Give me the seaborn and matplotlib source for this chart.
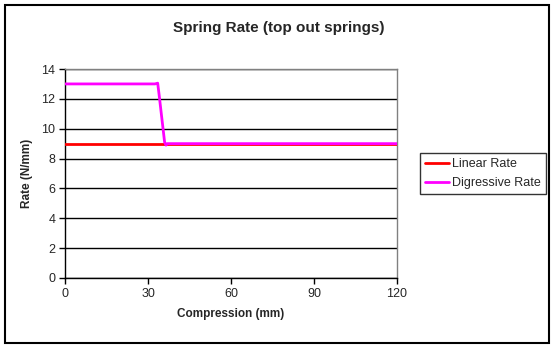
import numpy as np
import pandas as pd
import matplotlib
matplotlib.use("Agg")
import matplotlib.pyplot as plt
import seaborn as sns
from matplotlib.patches import Rectangle

# Spring rate data (compression in mm, rate in N/mm)
linear_x = [0, 120]
linear_rate = [9, 9]
digressive_x = [0, 32.5, 33.5, 34.0, 34.5, 35.0, 35.5, 36.0, 36.5, 37.0, 120]
digressive_rate = [13, 13, 13.05, 12.3, 11.5, 10.7, 9.9, 9.1, 8.9, 9.0, 9.0]

x_ticks = [0, 30, 60, 90, 120]
y_ticks = [0, 2, 4, 6, 8, 10, 12, 14]

sns.set_theme(style="white")
plt.rcParams['font.family'] = ['Liberation Sans', 'DejaVu Sans']

df = pd.concat([
    pd.DataFrame({"Compression": linear_x, "Rate": linear_rate, "Series": "Linear Rate"}),
    pd.DataFrame({"Compression": digressive_x, "Rate": digressive_rate, "Series": "Digressive Rate"}),
])

fig = plt.figure(figsize=(5.57, 3.5), dpi=100)
W, H = 557, 350
ax = fig.add_axes([65 / W, 1 - 278 / H, (397 - 65) / W, (278 - 69) / H])

sns.lineplot(data=df, x="Compression", y="Rate", hue="Series",
             palette={"Linear Rate": "#ff0000", "Digressive Rate": "#ff00ff"},
             linewidth=2, ax=ax, sort=False, estimator=None, zorder=3)

ax.set_xlim(0, 120)
ax.set_ylim(0, 14)
ax.set_xticks(x_ticks)
ax.set_yticks(y_ticks)
ax.tick_params(axis="both", which="both", direction="out", length=4, width=1,
               color="black", labelsize=9, pad=3, bottom=True, left=True)
ax.yaxis.grid(True, color="black", linewidth=1)
ax.xaxis.grid(False)
ax.set_axisbelow(True)
for side in ["left", "bottom"]:
    ax.spines[side].set_color("black")
    ax.spines[side].set_linewidth(1)
for side in ["right", "top"]:
    ax.spines[side].set_color("#808080")
    ax.spines[side].set_linewidth(1)

ax.set_xlabel("Compression (mm)", fontsize=8.5, fontweight="bold", labelpad=6)
ax.set_ylabel("Rate (N/mm)", fontsize=8.5, fontweight="bold", labelpad=6)

leg = ax.legend(loc="upper left", bbox_to_anchor=(420 / W, 1 - 153 / H),
                bbox_transform=fig.transFigure, frameon=True, fancybox=False,
                fontsize=9, handlelength=1.9, handletextpad=0.25,
                borderpad=0.4, labelspacing=0.55, borderaxespad=0)
leg.get_frame().set_edgecolor("black")
leg.get_frame().set_linewidth(1)

fig.text(0.5, 1 - 28 / H, "Spring Rate (top out springs)", ha="center", va="center",
         fontsize=11, fontweight="bold")

# Chart-area frame
fig.patches.append(Rectangle((5 / W, 1 - 343 / H), (549 - 5) / W, (343 - 5) / H,
                             transform=fig.transFigure, fill=False,
                             edgecolor="black", linewidth=1.5))

fig.savefig("out.png", dpi=100)
